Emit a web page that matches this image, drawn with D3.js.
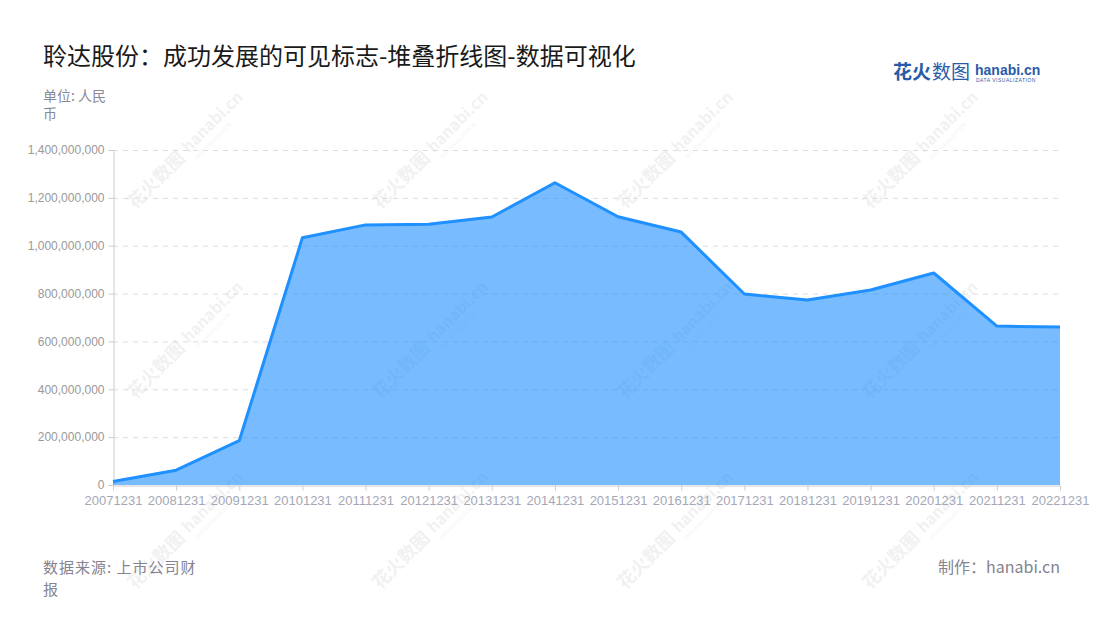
<!DOCTYPE html>
<html><head><meta charset="utf-8">
<script src="https://cdn.jsdelivr.net/npm/d3@7/dist/d3.min.js"></script>
<style>body{margin:0;background:#fff}svg{display:block}</style>
</head><body><svg id="c" width="1100" height="620"></svg>
<script>
const categories = ["20071231","20081231","20091231","20101231","20111231","20121231","20131231","20141231","20151231","20161231","20171231","20181231","20191231","20201231","20211231","20221231"];
const values = [15000000,62000000,185000000,1033000000,1087000000,1090000000,1120000000,1263000000,1121000000,1057000000,798000000,773000000,815000000,886000000,664000000,660000000];
const yTicks = [0,200000000,400000000,600000000,800000000,1000000000,1200000000,1400000000];
const title = "聆达股份：成功发展的可见标志-堆叠折线图-数据可视化";

const svg = d3.select("#c");
const font = "'Noto Sans CJK SC','Noto Sans',sans-serif";
const pLeft = 113, pRight = 1060, pTop = 150, pBottom = 485;

// watermarks
const wm = svg.append("g");
const wmPos = [[200,145],[445,145],[690,145],[935,145],[200,335],[445,335],[690,335],[935,335],[200,525],[445,525],[690,525],[935,525]];
wmPos.forEach(p=>{
  const g = wm.append("g").attr("transform",`translate(${p[0]},${p[1]}) rotate(-45)`).attr("fill","#000").attr("opacity",0.05);
  g.append("text").attr("x",-20).attr("y",0).attr("font-family",font).attr("font-size",18).attr("font-weight","bold").attr("text-anchor","end").text("花火数图");
  g.append("text").attr("x",-14).attr("y",-2).attr("font-family",font).attr("font-size",16).attr("font-weight","bold").text("hanabi.cn");
  g.append("text").attr("x",-12).attr("y",8).attr("font-family",font).attr("font-size",5).text("DATA VISUALIZATION");
});

const x = d3.scalePoint().domain(categories).range([pLeft,pRight]);
const y = d3.scaleLinear().domain([0,1400000000]).range([pBottom,pTop]);

// grid
svg.append("g").selectAll("line").data(yTicks.filter(d=>d>0)).join("line")
  .attr("x1",pLeft).attr("x2",pRight).attr("y1",d=>y(d)+0.5).attr("y2",d=>y(d)+0.5)
  .attr("stroke","#dcdcdc").attr("stroke-dasharray","5,5");

// y axis
const ya = svg.append("g").attr("transform",`translate(${pLeft+0.5},0)`)
  .call(d3.axisLeft(y).tickValues(yTicks).tickSize(5).tickFormat(d3.format(",")));
ya.select(".domain").attr("stroke","#ccc");
ya.selectAll(".tick line").attr("stroke","#ccc");
ya.selectAll("text").attr("fill","#999").attr("font-family","'Liberation Sans',sans-serif").attr("font-size",12).attr("dx",-1);

// x axis
const xa = svg.append("g").attr("transform",`translate(0,${pBottom+0.5})`)
  .call(d3.axisBottom(x).tickSize(5).tickSizeOuter(0));
xa.select(".domain").attr("stroke","#ccc");
xa.selectAll(".tick line").attr("stroke","#ccc");
xa.selectAll("text").attr("fill","#a4a8b6").attr("font-family","'Liberation Sans',sans-serif").attr("font-size",13).attr("dy","0.9em");

// area + line
svg.append("path").datum(values)
  .attr("d",d3.area().x((d,i)=>x(categories[i])).y0(y(0)).y1(d=>y(d)))
  .attr("fill","#1e90ff").attr("fill-opacity",0.6);
svg.append("path").datum(values)
  .attr("d",d3.line().x((d,i)=>x(categories[i])).y(d=>y(d)))
  .attr("fill","none").attr("stroke","#1e90ff").attr("stroke-width",3).attr("stroke-linejoin","round");

// title
svg.append("text").attr("x",43).attr("y",65).attr("font-family",font).attr("font-size",24).attr("fill","#1a1a1a").text(title);

// unit
const u = svg.append("text").attr("font-family",font).attr("font-size",14).attr("fill","#8a8a96");
u.append("tspan").attr("x",43).attr("y",101).text("单位: 人民");
u.append("tspan").attr("x",43).attr("y",119).text("币");

// footer
const f = svg.append("text").attr("font-family",font).attr("font-size",15).attr("letter-spacing",1).attr("fill","#85838f");
f.append("tspan").attr("x",43).attr("y",573).text("数据来源: 上市公司财");
f.append("tspan").attr("x",43).attr("y",595).text("报");
svg.append("text").attr("x",1060).attr("y",573).attr("text-anchor","end").attr("font-family",font).attr("font-size",16).attr("fill","#85838f").text("制作：hanabi.cn");

// logo
const lg = svg.append("g");
lg.append("text").attr("x",893).attr("y",79).attr("font-family",font).attr("font-size",19).attr("font-weight","bold").attr("fill","#2b5ba8").text("花火");
lg.append("text").attr("x",932).attr("y",79).attr("font-family",font).attr("font-size",19).attr("fill","#2b5ba8").text("数图");
lg.append("text").attr("x",975).attr("y",75).attr("font-family","'Liberation Sans',sans-serif").attr("font-size",14).attr("font-weight","bold").attr("fill","#2b5ba8").text("hanabi.cn");
lg.append("text").attr("x",976).attr("y",82).attr("font-family","'Liberation Sans',sans-serif").attr("font-size",5).attr("fill","#2b5ba8").attr("letter-spacing",0.5).text("DATA VISUALIZATION");
</script></body></html>
